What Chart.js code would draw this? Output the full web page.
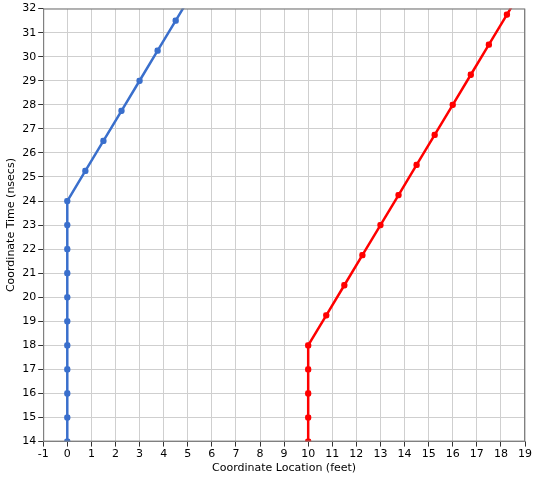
<!DOCTYPE html>
<html>
<head>
<meta charset="utf-8">
<script src="https://cdn.jsdelivr.net/npm/chart.js@4.4.0/dist/chart.umd.min.js"></script>
<style>
  html, body { margin: 0; padding: 0; background: #fff; }
  #wrap { width: 536px; height: 480px; }
</style>
</head>
<body>
<div id="wrap"><canvas id="chart"></canvas></div>
<script>
// Trayectoria azul (pies, nanosegundos)
var blueX = [0, 0, 0, 0, 0, 0, 0, 0, 0, 0, 0, 0.75, 1.5, 2.25, 3, 3.75, 4.5, 5.25];
var blueT = [14, 15, 16, 17, 18, 19, 20, 21, 22, 23, 24, 25.25, 26.5, 27.75, 29, 30.25, 31.5, 32.75];

// Trayectoria roja
var redX = [10, 10, 10, 10, 10, 10.75, 11.5, 12.25, 13, 13.75, 14.5, 15.25, 16, 16.75, 17.5, 18.25, 19];
var redT = [14, 15, 16, 17, 18, 19.25, 20.5, 21.75, 23, 24.25, 25.5, 26.75, 28, 29.25, 30.5, 31.75, 33];

var xTitle = "Coordinate Location (feet)";
var yTitle = "Coordinate Time (nsecs)";

function toPoints(xs, ts) {
    return xs.map(function (x, i) { return { x: x, y: ts[i] }; });
}

var fontBase = { family: "Tahoma, 'DejaVu Sans', sans-serif", size: 11 };

var config = {
    type: 'line',
    data: {
        datasets: [{
            label: "Blue",
            data: toPoints(blueX, blueT),
            borderColor: "#3a6fcc",
            backgroundColor: "#3a6fcc",
            borderWidth: 2.5,
            pointRadius: 2.2,
            pointStyle: 'rectRounded',
            tension: 0
        }, {
            label: "Red",
            data: toPoints(redX, redT),
            borderColor: "#ff0000",
            backgroundColor: "#ff0000",
            borderWidth: 2.5,
            pointRadius: 2.2,
            pointStyle: 'rectRounded',
            tension: 0
        }]
    },
    options: {
        responsive: true,
        maintainAspectRatio: false,
        animation: false,
        layout: { padding: { top: 6, right: 11, left: 5, bottom: 5 } },
        plugins: {
            legend: { display: false },
            tooltip: { enabled: false }
        },
        scales: {
            x: {
                type: 'linear',
                min: -1,
                max: 19,
                ticks: { stepSize: 1, color: "#000", font: fontBase, padding: 1, maxRotation: 0 },
                grid: { color: "#cfcfcf", tickColor: "#333", tickLength: 5 },
                border: { color: "#808080", width: 1 },
                title: { display: true, text: xTitle, color: "#000", font: fontBase, padding: { top: 0, bottom: 0 } }
            },
            y: {
                type: 'linear',
                min: 14,
                max: 32,
                ticks: { stepSize: 1, color: "#000", font: fontBase, padding: 2 },
                grid: { color: "#cfcfcf", tickColor: "#333", tickLength: 5 },
                border: { color: "#808080", width: 1 },
                title: { display: true, text: yTitle, color: "#000", font: fontBase, padding: { top: 0, bottom: 2 } }
            }
        }
    },
    plugins: [{
        id: 'frame',
        afterDraw: function (chart) {
            var a = chart.chartArea, c = chart.ctx;
            c.save();
            c.strokeStyle = "#808080";
            c.lineWidth = 1;
            c.strokeRect(a.left + 0.5, a.top + 0.5, a.right - a.left - 1, a.bottom - a.top - 1);
            c.restore();
        }
    }]
};

new Chart(document.getElementById('chart').getContext('2d'), config);
</script>
</body>
</html>
